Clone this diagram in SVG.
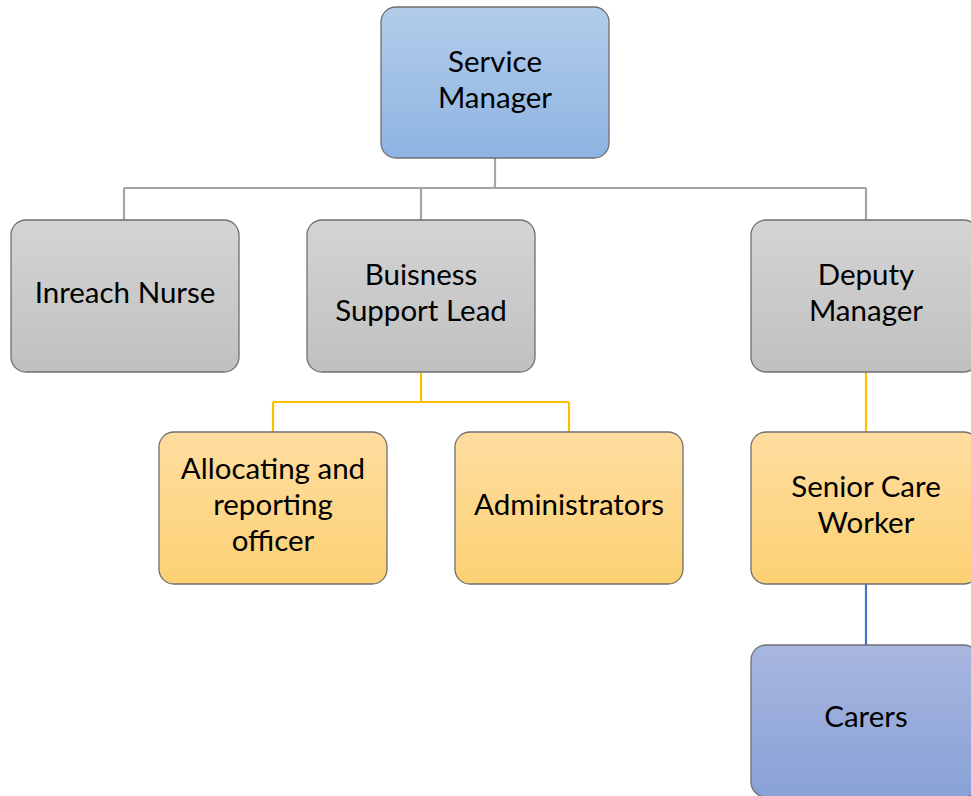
<svg xmlns="http://www.w3.org/2000/svg" width="971" height="796" viewBox="0 0 971 796">
<defs>
<linearGradient id="gBlue" x1="0" y1="0" x2="0" y2="1"><stop offset="0" stop-color="#b2cdea"/><stop offset="1" stop-color="#8eb3e2"/></linearGradient>
<linearGradient id="gGray" x1="0" y1="0" x2="0" y2="1"><stop offset="0" stop-color="#d4d4d4"/><stop offset="1" stop-color="#c0c0c0"/></linearGradient>
<linearGradient id="gOrange" x1="0" y1="0" x2="0" y2="1"><stop offset="0" stop-color="#fedda0"/><stop offset="1" stop-color="#fcd173"/></linearGradient>
<linearGradient id="gPurple" x1="0" y1="0" x2="0" y2="1"><stop offset="0" stop-color="#a8b7df"/><stop offset="1" stop-color="#88a1d7"/></linearGradient>
</defs>
<style>
.box{stroke:#6f6f6f;stroke-width:1.3}
.t{font-family:Lato,"Open Sans",sans-serif;font-size:29.5px;fill:#000;text-anchor:middle}
.c{fill:none;stroke-width:2.2}
</style>
<rect width="971" height="796" fill="#fff"/>
<g id="connectors">
<path class="c" stroke="#a5a5a5" d="M495 158V188M124 188H866M124 188V220M421 188V220M866 188V220"/>
<path class="c" stroke="#fbbf00" d="M421 372V402M273 402H569M273 402V432M569 402V432M866 372V432"/>
<path class="c" stroke="#4472c4" d="M866 584V645"/>
</g>
<g id="service-manager"><rect class="box" x="381" y="7" width="228" height="151" rx="15" fill="url(#gBlue)"/><text class="t" x="495" y="72">Service</text><text class="t" x="495" y="108">Manager</text></g>
<g id="inreach-nurse"><rect class="box" x="11" y="220" width="228" height="152" rx="15" fill="url(#gGray)"/><text class="t" x="125" y="303">Inreach Nurse</text></g>
<g id="business-support-lead"><rect class="box" x="307" y="220" width="228" height="152" rx="15" fill="url(#gGray)"/><text class="t" x="421" y="285">Buisness</text><text class="t" x="421" y="321">Support Lead</text></g>
<g id="deputy-manager"><rect class="box" x="751" y="220" width="228" height="152" rx="15" fill="url(#gGray)"/><text class="t" x="866" y="285">Deputy</text><text class="t" x="866" y="321">Manager</text></g>
<g id="allocating-officer"><rect class="box" x="159" y="432" width="228" height="152" rx="15" fill="url(#gOrange)"/><text class="t" x="273" y="479">Allocating and</text><text class="t" x="273" y="515">reporting</text><text class="t" x="273" y="551">officer</text></g>
<g id="administrators"><rect class="box" x="455" y="432" width="228" height="152" rx="15" fill="url(#gOrange)"/><text class="t" x="569" y="515">Administrators</text></g>
<g id="senior-care-worker"><rect class="box" x="751" y="432" width="228" height="152" rx="15" fill="url(#gOrange)"/><text class="t" x="866" y="497">Senior Care</text><text class="t" x="866" y="533">Worker</text></g>
<g id="carers"><rect class="box" x="751" y="645" width="228" height="152" rx="15" fill="url(#gPurple)"/><text class="t" x="866" y="727">Carers</text></g>
</svg>
